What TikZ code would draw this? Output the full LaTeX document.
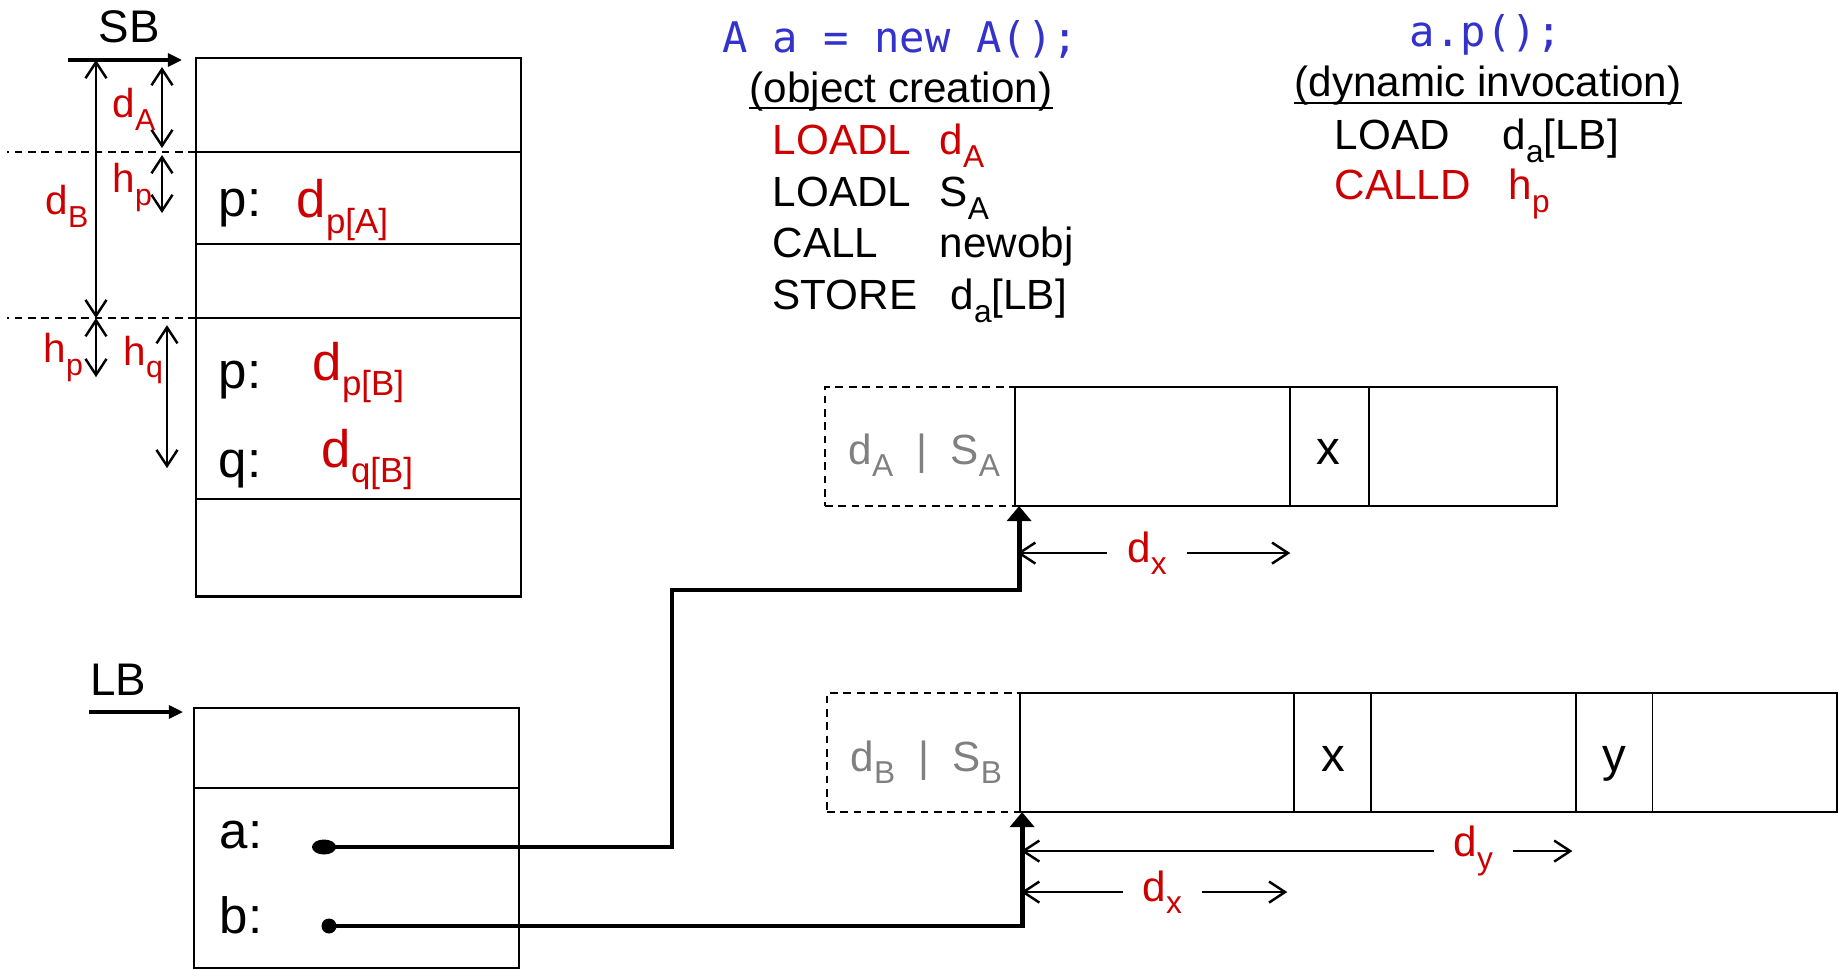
\documentclass[tikz,border=0pt]{standalone}
\usepackage{fontspec}
\setmainfont{Liberation Sans}
\setmonofont{DejaVu Sans Mono}
\usepackage{graphicx}
\usepackage{tikz}
\usetikzlibrary{arrows.meta, calc, positioning, shapes.geometric}

\definecolor{offred}{RGB}{204,0,0}
\definecolor{codeblue}{RGB}{51,51,204}
\definecolor{hdrgray}{RGB}{128,128,128}

\newcommand{\lo}[2][0.75]{\raisebox{-0.3em}{\scalebox{#1}{#2}}}

\begin{document}
\begin{tikzpicture}[
  x=0.01cm, y=-0.01cm,
  slot/.style={rectangle, draw, line width=0.7pt, outer sep=0pt, inner sep=0pt,
               minimum width=3.25cm},
  cell/.style={rectangle, draw, line width=0.55pt, outer sep=0pt, inner sep=0pt,
               minimum height=1.19cm},
  hdr/.style={cell, line width=0.5pt, dash pattern=on 2.2pt off 1.6pt},
  dim/.style={line width=0.7pt,
              {Straight Barb[length=1.6mm,width=2.1mm]}-{Straight Barb[length=1.6mm,width=2.1mm]}},
  ptr/.style={line width=1.4pt, -{Triangle[length=1.5mm,width=2.4mm]}},
  entry/.style={line width=0.9pt, -{Triangle[length=1.4mm,width=1.3mm]}},
  nm/.style={inner sep=0pt, anchor=base, font=\fontsize{13}{15}\selectfont},
  fld/.style={inner sep=0pt, anchor=base west, font=\fontsize{14.5}{17}\selectfont},
  redbig/.style={inner sep=0pt, anchor=base west, text=offred, font=\fontsize{15}{18}\selectfont},
  dimtxt/.style={inner sep=0pt, anchor=base west, text=offred, font=\fontsize{11.5}{14}\selectfont},
  srcline/.style={inner sep=0pt, anchor=base, text=codeblue, font=\ttfamily\fontsize{12}{14}\selectfont},
  heading/.style={inner sep=0pt, anchor=base, font=\fontsize{12}{14}\selectfont},
  instr/.style={inner sep=0pt, anchor=base west, font=\fontsize{12}{14}\selectfont},
  hdrtxt/.style={inner sep=0pt, anchor=base west, text=hdrgray, font=\fontsize{12}{14}\selectfont},
  fldname/.style={inner sep=0pt, anchor=base, font=\fontsize{13.5}{16}\selectfont},
  dimlbl/.style={fill=white, inner xsep=2mm, inner ysep=0.5mm, text=offred,
                 font=\fontsize{12}{14}\selectfont}
]
\useasboundingbox (0,0) rectangle (1839,970);

% Static (class) block
\node[slot, minimum height=0.94cm, anchor=north west] (sb1) at (196,58) {};
\node[slot, minimum height=0.92cm, below=0pt of sb1] (sb2) {};
\node[slot, minimum height=0.74cm, below=0pt of sb2] (sb3) {};
\node[slot, minimum height=1.81cm, below=0pt of sb3] (sb4) {};
\node[slot, minimum height=0.97cm, below=0pt of sb4] (sb5) {};

\node[nm] (sbname) at (129,43) {SB};
\draw[entry] ($(sb1.north west)+(-128,2)$) -- ($(sb1.north west)+(-14,2)$);

\node[fld] (pA) at (218,217) {p:};
\node[redbig] (dpA) at (296,218) {d\lo[0.66]{p[A]}};
\node[fld] (pB) at (218,388) {p:};
\node[redbig] (dpB) at (312,380) {d\lo[0.66]{p[B]}};
\node[fld] (qB) at (218,477) {q:};
\node[redbig] (dqB) at (321,467) {d\lo[0.66]{q[B]}};

% class boundaries
\draw[line width=0.6pt, dash pattern=on 2.2pt off 1.6pt]
  (sb1.south west) -- ($(sb1.south west)+(-189,0)$);
\draw[line width=0.6pt, dash pattern=on 2.2pt off 1.6pt]
  (sb4.north west) -- ($(sb4.north west)+(-189,0)$);

% Offsets and sizes
\draw[dim] ($(sb1.north west)+(-34,9)$) -- ($(sb1.south west)+(-34,-4)$);
\node[dimtxt] (dAlbl) at (112,118) {d\lo{A}};
\draw[dim] ($(sb2.north west)+(-34,3)$) -- ($(sb2.north west)+(-34,61)$);
\node[dimtxt] (hp1lbl) at (112,193) {h\lo{p}};
\draw[dim] ($(sb1.north west)+(-100,2)$) -- ($(sb4.north west)+(-100,0)$);
\node[dimtxt] (dBlbl) at (45,215) {d\lo{B}};
\draw[dim] ($(sb4.north west)+(-100,0)$) -- ($(sb4.north west)+(-100,59)$);
\node[dimtxt] (hp2lbl) at (43,363) {h\lo{p}};
\draw[dim] ($(sb4.north west)+(-29,7)$) -- ($(sb4.north west)+(-29,150)$);
\node[dimtxt] (hqlbl) at (123,365) {h\lo{q}};

% Local frame
\node[slot, minimum height=0.80cm, anchor=north west] (lb1) at (194,708) {};
\node[slot, minimum height=1.80cm, below=0pt of lb1] (lb2) {};
\node[nm] (lbname) at (118,695) {LB};
\draw[entry] ($(lb1.north west)+(-105,4)$) -- ($(lb1.north west)+(-11,4)$);

\node[fld] (aname) at (219,848) {a:};
\node[fld] (bname) at (219,933) {b:};
\node[ellipse, fill, inner sep=0pt, minimum width=0.24cm, minimum height=0.15cm]
  (adot) at (324,847) {};
\node[circle, fill, inner sep=0pt, minimum size=0.15cm] (bdot) at (329,926) {};

% Object of class A
\node[hdr, minimum width=1.90cm, anchor=north west] (objA0) at (825,387) {};
\node[cell, minimum width=2.75cm, right=0pt of objA0] (objA1) {};
\node[cell, minimum width=0.79cm, right=0pt of objA1] (objA2) {};
\node[cell, minimum width=1.88cm, right=0pt of objA2] (objA3) {};
\node[hdrtxt] (hdrA) at (848,464) {d\lo{A}\hspace{0.55em}|\hspace{0.55em}S\lo{A}};
\node[fldname] (xA) at (1328,464) {x};

% Object of class B
\node[hdr, minimum width=1.93cm, anchor=north west] (objB0) at (827,693) {};
\node[cell, minimum width=2.74cm, right=0pt of objB0] (objB1) {};
\node[cell, minimum width=0.77cm, right=0pt of objB1] (objB2) {};
\node[cell, minimum width=2.05cm, right=0pt of objB2] (objB3) {};
\node[cell, minimum width=0.76cm, right=0pt of objB3] (objB4) {};
\node[cell, minimum width=1.84cm, right=0pt of objB4] (objB5) {};
\node[hdrtxt] (hdrB) at (850,771) {d\lo{B}\hspace{0.55em}|\hspace{0.55em}S\lo{B}};
\node[fldname] (xB) at (1333,771) {x};
\node[fldname] (yB) at (1614,771) {y};

% References
\coordinate (abend) at (672,590);
\draw[ptr] (adot.center) -| (abend) -| ($(objA1.south west)+(4,0)$);
\draw[ptr] (bdot.center) -| ($(objB1.south west)+(2,0)$);

% Field offsets
\draw[dim] ($(objA1.south west)+(2,47)$) --
  node[dimlbl, pos=0.476] (dxA) {d\lo{x}} ($(objA2.south west)+(0,47)$);
\draw[dim] ($(objB1.south west)+(1,39)$) --
  node[dimlbl, pos=0.82] (dyB) {d\lo{y}} ($(objB4.south west)+(-4,39)$);
\draw[dim] ($(objB1.south west)+(1,80)$) --
  node[dimlbl, pos=0.53] (dxB) {d\lo{x}} ($(objB2.south west)+(-7,80)$);

% Object creation code
\node[srcline] (srcA) at (900,53) {A a = new A();};
\node[heading] (titleA) at (901,103) {(object creation)};
\draw[line width=0.8pt] ($(titleA.base west)+(0,5)$) -- ($(titleA.base east)+(0,5)$);
\node[instr, text=offred] (opA1) at (772,155) {LOADL};
\node[instr, text=offred] (argA1) at (939,155) {d\lo{A}};
\node[instr] (opA2) at (772,207) {LOADL};
\node[instr] (argA2) at (939,207) {S\lo{A}};
\node[instr] (opA3) at (772,258) {CALL};
\node[instr] (argA3) at (939,258) {newobj};
\node[instr] (opA4) at (772,310) {STORE};
\node[instr] (argA4) at (950,310) {d\lo{a}[LB]};

% Dynamic invocation code
\node[srcline] (srcP) at (1486,47) {a.p();};
\node[heading] (titleP) at (1488,97) {(dynamic invocation)};
\draw[line width=0.8pt] ($(titleP.base west)+(0,6)$) -- ($(titleP.base east)+(0,6)$);
\node[instr] (opP1) at (1334,150) {LOAD};
\node[instr] (argP1) at (1502,150) {d\lo{a}[LB]};
\node[instr, text=offred] (opP2) at (1334,200) {CALLD};
\node[instr, text=offred] (argP2) at (1508,200) {h\lo{p}};

\end{tikzpicture}
\end{document}
